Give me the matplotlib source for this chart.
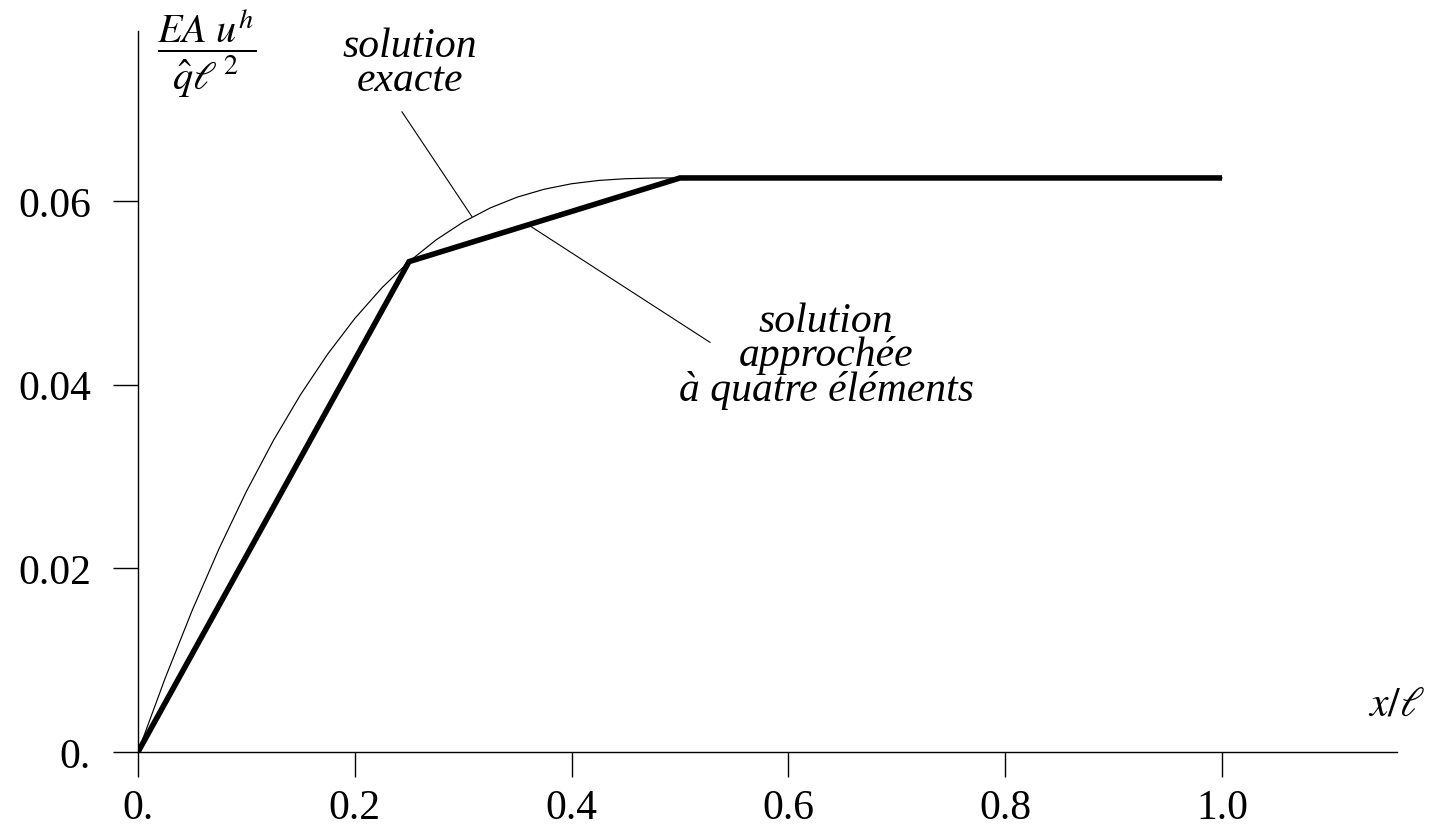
import matplotlib
matplotlib.use("Agg")
import matplotlib.pyplot as plt

# --- data ---
# exact solution (thin curve)
x_exact = [0.0, 0.025, 0.05, 0.075, 0.1, 0.125, 0.15, 0.175, 0.2, 0.225, 0.25,
           0.275, 0.3, 0.325, 0.35, 0.375, 0.4, 0.425, 0.45, 0.475, 0.5, 0.75, 1.0]
u_exact = [0.0, 0.00802, 0.01542, 0.02220, 0.02837, 0.03394, 0.03892, 0.04333,
           0.04720, 0.05054, 0.05339, 0.05576, 0.05770, 0.05924, 0.06042, 0.06128,
           0.06187, 0.06223, 0.06242, 0.06249, 0.0625, 0.0625, 0.0625]
# four-element approximation (thick polyline)
x_nodes = [0.0, 0.25, 0.5, 0.75, 1.0]
u_nodes = [0.0, 0.05339, 0.0625, 0.0625, 0.0625]

x_ticks = [0.0, 0.2, 0.4, 0.6, 0.8, 1.0]
x_tick_labels = ["0.", "0.2", "0.4", "0.6", "0.8", "1.0"]
y_ticks = [0.0, 0.02, 0.04, 0.06]
y_tick_labels = ["0.", "0.02", "0.04", "0.06"]

label_exact = "solution\nexacte"
label_approx = "solution\napprochée\nà quatre éléments"

plt.rcParams["font.family"] = ["Liberation Serif", "DejaVu Serif"]
plt.rcParams["mathtext.fontset"] = "stix"

W, H = 1431, 837
fig = plt.figure(figsize=(W / 100, H / 100), dpi=100)
ax = fig.add_axes([138 / W, 1 - 753 / H, (1397 - 138) / W, (753 - 32) / H])
ax.set_xlim(0, 1.1614)
ax.set_ylim(0, 0.0785)

ax.plot(x_exact, u_exact, color="black", lw=0.85, solid_joinstyle="round")
ax.plot(x_nodes, u_nodes, color="black", lw=4.0, solid_joinstyle="miter",
        solid_capstyle="butt")

for s in ["top", "right"]:
    ax.spines[s].set_visible(False)
for s in ["left", "bottom"]:
    ax.spines[s].set_linewidth(1.0)

ax.set_xticks(x_ticks)
ax.set_xticklabels(x_tick_labels)
ax.set_yticks(y_ticks)
ax.set_yticklabels(y_tick_labels)
ax.tick_params(axis="both", direction="out", length=18, width=1.0,
               labelsize=30, colors="black")
ax.tick_params(axis="x", pad=8)
ax.tick_params(axis="y", pad=16)

# axis labels
ax.text(0.0637, 0.0762, r"$\dfrac{EA\ u^h}{\hat{q}\ell^{\,2}}$", fontsize=29,
        ha="center", va="center", clip_on=False)
ax.text(1.161, 0.0052, r"$x/\ell$", fontsize=30, ha="center", va="center",
        clip_on=False)

# annotations
ax.text(0.251, 0.0750, label_exact, fontsize=30, style="italic", ha="center",
        va="center", linespacing=0.85)
ax.plot([0.2435, 0.308], [0.0697, 0.0583], color="black", lw=0.8)

ax.text(0.6347, 0.0432, label_approx, fontsize=30, style="italic", ha="center",
        va="center", linespacing=0.85)
ax.plot([0.36, 0.5277], [0.0574, 0.0446], color="black", lw=0.8)

fig.savefig("out.png", dpi=100)
